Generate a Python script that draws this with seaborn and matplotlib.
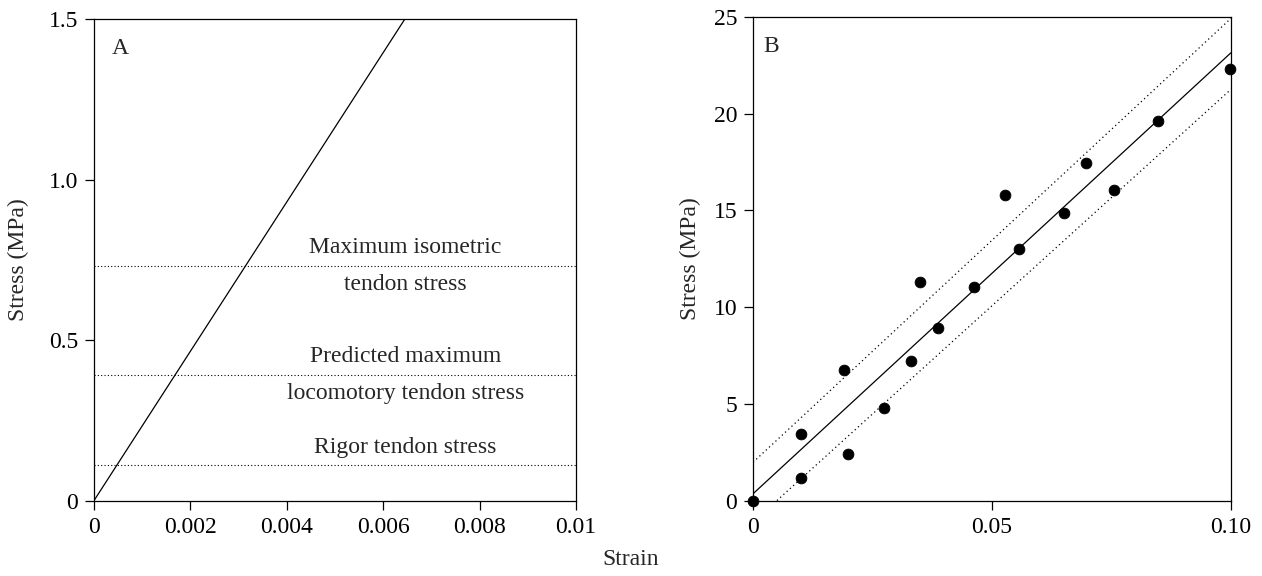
import numpy as np
import pandas as pd
import seaborn as sns
import matplotlib.pyplot as plt

# Painel A: linha de rigidez e limites de tensao
strainA_line = [0.0, 0.00645]
stressA_line = [0.0, 1.5]
ref_levels = [0.731, 0.391, 0.110]
ref_labels = ["Maximum isometric\ntendon stress",
              "Predicted maximum\nlocomotory tendon stress",
              "Rigor tendon stress"]
ref_text_y = [0.738, 0.397, 0.165]

# Painel B: pontos medidos
strainB = [0.0, 0.0100, 0.0101, 0.0190, 0.0199, 0.0275, 0.0331, 0.0349, 0.0388,
           0.0462, 0.0528, 0.0557, 0.0651, 0.0697, 0.0755, 0.0847, 0.0999]
stressB = [0.0, 3.43, 1.18, 6.73, 2.40, 4.78, 7.21, 11.30, 8.92,
           11.02, 15.80, 12.99, 14.86, 17.43, 16.06, 19.63, 22.29]

# Regressao e limites
fit_x = [0.0, 0.1]
fit_y = [0.35, 23.15]
upper_x = [0.0, 0.1]
upper_y = [1.98, 24.93]
lower_x = [0.005, 0.1]
lower_y = [0.0, 21.26]

FS = 17

sns.set_style("ticks")
plt.rcParams['font.family'] = ['Liberation Serif', 'DejaVu Serif']
plt.rcParams['axes.linewidth'] = 0.9
plt.rcParams['xtick.major.width'] = 0.9
plt.rcParams['ytick.major.width'] = 0.9
plt.rcParams['xtick.major.size'] = 6.5
plt.rcParams['ytick.major.size'] = 6.5
plt.rcParams['xtick.color'] = 'black'
plt.rcParams['ytick.color'] = 'black'
plt.rcParams['axes.edgecolor'] = 'black'

fig = plt.figure(figsize=(12.62, 5.76), dpi=100)
axA = fig.add_axes([0.0745, 0.131, 0.3819, 0.836])
axB = fig.add_axes([0.5967, 0.131, 0.3787, 0.8395])

# ---- Painel A ----
dfA = pd.DataFrame({"strain": strainA_line, "stress": stressA_line})
sns.lineplot(data=dfA, x="strain", y="stress", ax=axA, color='black', linewidth=0.9)
for lvl, lab, ty in zip(ref_levels, ref_labels, ref_text_y):
    axA.axhline(lvl, color='black', linestyle=(0, (1, 2)), linewidth=0.8)
    if "\n" in lab:
        top, bottom = lab.split("\n")
        axA.text(0.00646, lvl + 0.025, top, ha='center', va='bottom', fontsize=FS)
        axA.text(0.00646, lvl - 0.025, bottom, ha='center', va='top', fontsize=FS)
    else:
        axA.text(0.00646, ty, lab, ha='center', va='center', fontsize=FS)

axA.set_xlim(0, 0.01)
axA.set_ylim(0, 1.5)
axA.set_xticks([0, 0.002, 0.004, 0.006, 0.008, 0.01])
axA.set_xticklabels(["0", "0.002", "0.004", "0.006", "0.008", "0.01"])
axA.set_yticks([0, 0.5, 1.0, 1.5])
axA.set_yticklabels(["0", "0.5", "1.0", "1.5"])
axA.set_xlabel("")
axA.set_ylabel("Stress (MPa)", fontsize=FS)
axA.yaxis.set_label_coords(-0.135, 0.5)
axA.text(0.037, 0.96, "A", transform=axA.transAxes, fontsize=FS, va='top')

# ---- Painel B ----
dfB = pd.DataFrame({"strain": strainB, "stress": stressB})
sns.lineplot(x=fit_x, y=fit_y, ax=axB, color='black', linewidth=0.9)
sns.lineplot(x=upper_x, y=upper_y, ax=axB, color='black', linewidth=0.9, linestyle=(0, (1, 2.5)))
sns.lineplot(x=lower_x, y=lower_y, ax=axB, color='black', linewidth=0.9, linestyle=(0, (1, 2.5)))
sns.scatterplot(data=dfB, x="strain", y="stress", ax=axB, color='black', s=60,
                edgecolor='black', zorder=5, clip_on=False)

axB.set_xlim(0, 0.1)
axB.set_ylim(0, 25)
axB.set_xticks([0, 0.05, 0.10])
axB.set_xticklabels(["0", "0.05", "0.10"])
axB.set_yticks([0, 5, 10, 15, 20, 25])
axB.set_xlabel("")
axB.set_ylabel("Stress (MPa)", fontsize=FS)
axB.yaxis.set_label_coords(-0.109, 0.5)
axB.text(0.022, 0.96, "B", transform=axB.transAxes, fontsize=FS, va='top')

for ax in (axA, axB):
    ax.tick_params(labelsize=FS, direction='out', top=False, right=False, pad=5)
    for sp in ax.spines.values():
        sp.set_visible(True)

fig.text(0.5, 0.028, "Strain", ha='center', va='center', fontsize=FS)

plt.savefig("out.png", dpi=100)
